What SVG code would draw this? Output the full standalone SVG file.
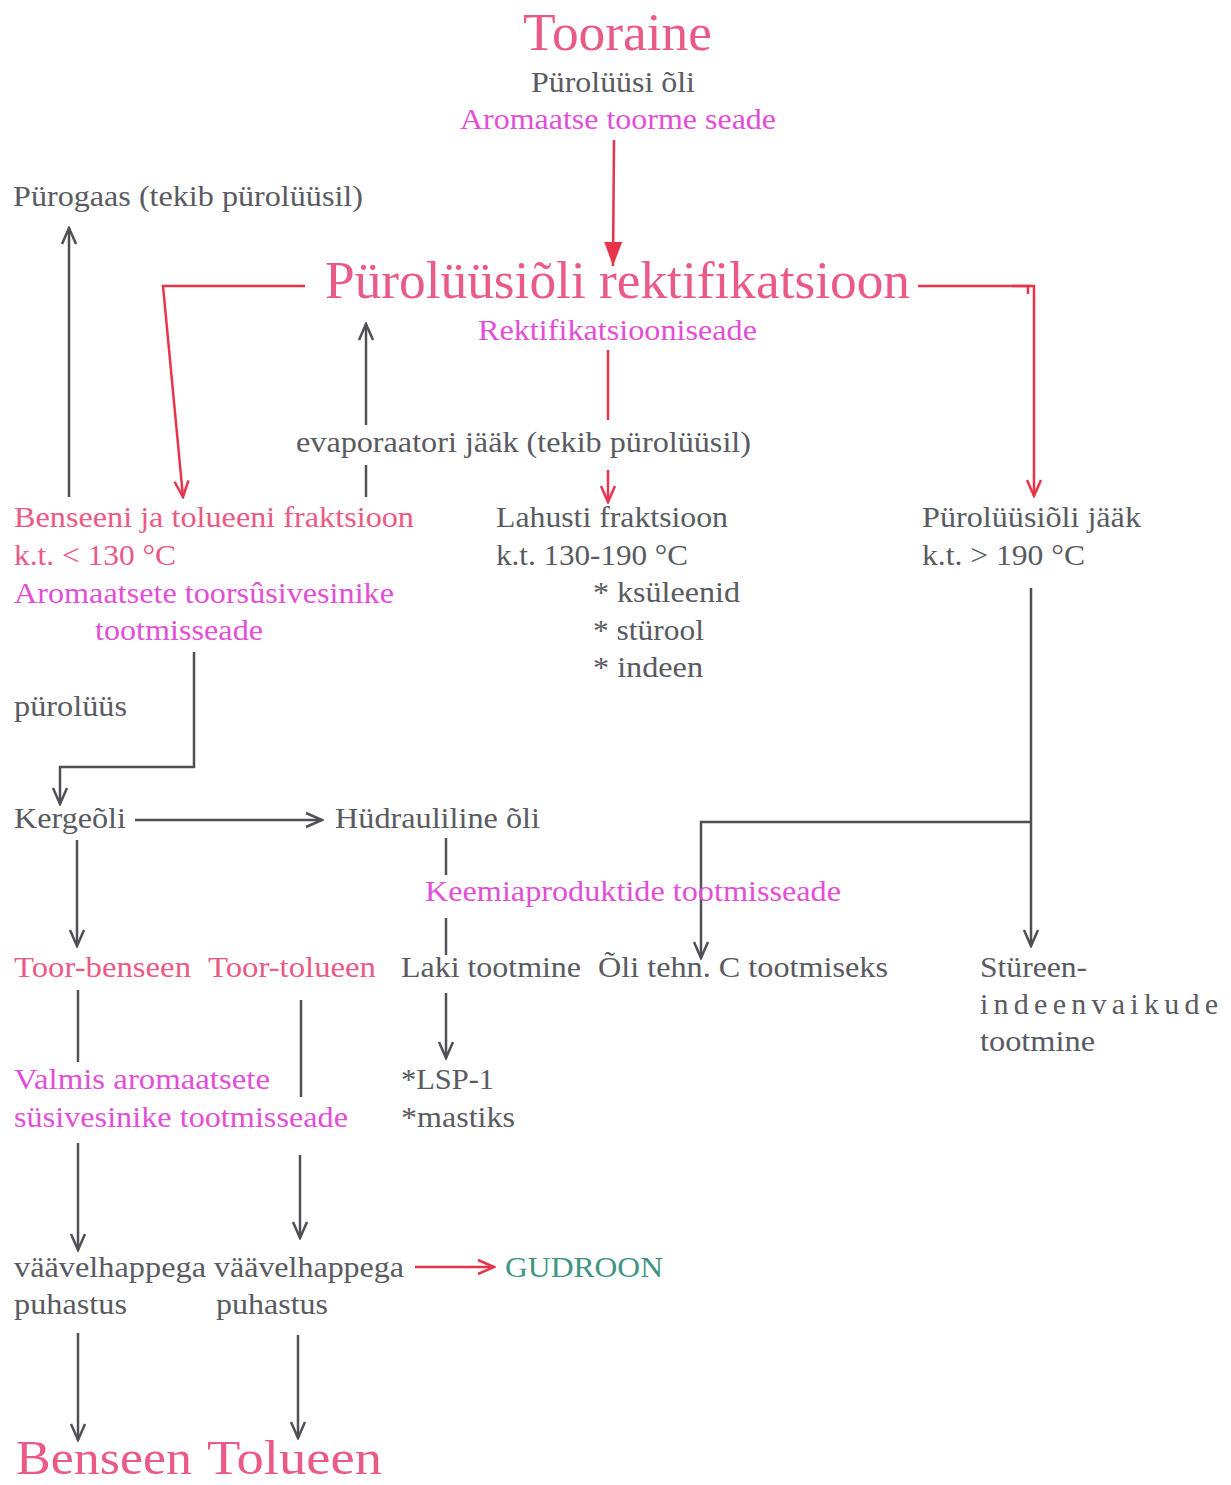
<svg xmlns="http://www.w3.org/2000/svg" width="1231" height="1485" viewBox="0 0 1231 1485">
<defs>
<style>
text{font-family:"Liberation Serif","Times New Roman",serif;font-size:30px}
.g{fill:#5a5a62}
.p{fill:#ea5a86}
.m{fill:#e24fd6}
.t{fill:#3f9485}
.big{font-size:52px}
.bot{font-size:48px}
.gl{stroke:#4f5056;stroke-width:2.5;fill:none}
.rl{stroke:#e8344a;stroke-width:2.5;fill:none}
</style>
<marker id="ag" viewBox="0 0 20 20" refX="18" refY="10" markerWidth="20" markerHeight="20" markerUnits="userSpaceOnUse" orient="auto"><path d="M2,3 L18,10 L2,17" fill="none" stroke="#4f5056" stroke-width="2.5"/></marker>
<marker id="ar" viewBox="0 0 20 20" refX="18" refY="10" markerWidth="20" markerHeight="20" markerUnits="userSpaceOnUse" orient="auto"><path d="M2,3 L18,10 L2,17" fill="none" stroke="#e8344a" stroke-width="2.5"/></marker>
<marker id="arf" viewBox="0 0 26 20" refX="24" refY="10" markerWidth="26" markerHeight="20" markerUnits="userSpaceOnUse" orient="auto"><path d="M0,1 L24,10 L0,19 Z" fill="#e8344a"/></marker>
</defs>
<rect width="1231" height="1485" fill="#ffffff"/>

<g id="connectors">
<path class="rl" d="M614,140 L613,266" marker-end="url(#arf)"/>
<path class="rl" d="M305,286 L163,286 L183,497" marker-end="url(#ar)"/>
<path class="rl" d="M918,286 L1034,286 L1034,496" marker-end="url(#ar)"/>
<path class="rl" d="M1012,286 L1028,286 L1028,294" stroke-width="3"/>
<path class="rl" d="M608,350 L608,420"/>
<path class="rl" d="M608,470 L608,502" marker-end="url(#ar)"/>
<path class="gl" d="M69,497 L69,228" marker-end="url(#ag)"/>
<path class="gl" d="M366,497 L366,465"/>
<path class="gl" d="M366,425 L366,324" marker-end="url(#ag)"/>
<path class="gl" d="M194,652 L194,767 L60,767 L60,804" marker-end="url(#ag)"/>
<path class="gl" d="M135,820 L322,820" marker-end="url(#ag)"/>
<path class="gl" d="M77,840 L77,946" marker-end="url(#ag)"/>
<path class="gl" d="M446,838 L446,875"/>
<path class="gl" d="M446,918 L446,955"/>
<path class="gl" d="M446,993 L446,1058" marker-end="url(#ag)"/>
<path class="gl" d="M1031,588 L1031,946" marker-end="url(#ag)"/>
<path class="gl" d="M1031,822 L701,822 L701,958" marker-end="url(#ag)"/>
<path class="gl" d="M78,990 L78,1062"/>
<path class="gl" d="M301,1000 L301,1097"/>
<path class="gl" d="M78,1143 L78,1250" marker-end="url(#ag)"/>
<path class="gl" d="M300,1155 L300,1238" marker-end="url(#ag)"/>
<path class="rl" d="M415,1267 L494,1267" marker-end="url(#ar)"/>
<path class="gl" d="M78,1333 L78,1440" marker-end="url(#ag)"/>
<path class="gl" d="M298,1335 L298,1438" marker-end="url(#ag)"/>
</g>

<g id="tooraine">
<text class="p big" x="523" y="50" textLength="189" lengthAdjust="spacingAndGlyphs">Tooraine</text>
<text class="g" x="531" y="92" textLength="164" lengthAdjust="spacingAndGlyphs">Pürolüüsi õli</text>
<text class="m" x="460" y="129" textLength="316" lengthAdjust="spacingAndGlyphs">Aromaatse toorme seade</text>
</g>
<g id="purogaas">
<text class="g" x="13" y="206" textLength="350" lengthAdjust="spacingAndGlyphs">Pürogaas (tekib pürolüüsil)</text>
</g>
<g id="rektifikatsioon">
<text class="p big" x="325" y="298" textLength="585" lengthAdjust="spacingAndGlyphs">Pürolüüsiõli rektifikatsioon</text>
<text class="m" x="478" y="340" textLength="279" lengthAdjust="spacingAndGlyphs">Rektifikatsiooniseade</text>
</g>
<g id="evaporaator">
<text class="g" x="296" y="452" textLength="455" lengthAdjust="spacingAndGlyphs">evaporaatori jääk (tekib pürolüüsil)</text>
</g>
<g id="benseeni-fraktsioon">
<text class="p" x="14" y="527" textLength="400" lengthAdjust="spacingAndGlyphs">Benseeni ja tolueeni fraktsioon</text>
<text class="p" x="14" y="565" textLength="162" lengthAdjust="spacingAndGlyphs">k.t. &lt; 130 °C</text>
<text class="m" x="14" y="603" textLength="380" lengthAdjust="spacingAndGlyphs">Aromaatsete toorsûsivesinike</text>
<text class="m" x="95" y="640" textLength="168" lengthAdjust="spacingAndGlyphs">tootmisseade</text>
</g>
<g id="lahusti-fraktsioon">
<text class="g" x="496" y="527" textLength="232" lengthAdjust="spacingAndGlyphs">Lahusti fraktsioon</text>
<text class="g" x="496" y="565" textLength="192" lengthAdjust="spacingAndGlyphs">k.t. 130-190 °C</text>
<text class="g" x="593" y="602" textLength="147" lengthAdjust="spacingAndGlyphs">* ksüleenid</text>
<text class="g" x="593" y="640" textLength="111" lengthAdjust="spacingAndGlyphs">* stürool</text>
<text class="g" x="593" y="677" textLength="110" lengthAdjust="spacingAndGlyphs">* indeen</text>
</g>
<g id="jaak">
<text class="g" x="922" y="527" textLength="219" lengthAdjust="spacingAndGlyphs">Pürolüüsiõli jääk</text>
<text class="g" x="922" y="565" textLength="163" lengthAdjust="spacingAndGlyphs">k.t. &gt; 190 °C</text>
</g>
<g id="puroluus">
<text class="g" x="14" y="716" textLength="113" lengthAdjust="spacingAndGlyphs">pürolüüs</text>
</g>
<g id="kergeoli">
<text class="g" x="14" y="828" textLength="112" lengthAdjust="spacingAndGlyphs">Kergeõli</text>
</g>
<g id="hudrauliline">
<text class="g" x="335" y="828" textLength="205" lengthAdjust="spacingAndGlyphs">Hüdrauliline õli</text>
</g>
<g id="keemiaproduktide">
<text class="m" x="425" y="901" textLength="416" lengthAdjust="spacingAndGlyphs">Keemiaproduktide tootmisseade</text>
</g>
<g id="toor-benseen">
<text class="p" x="14" y="977" textLength="177" lengthAdjust="spacingAndGlyphs">Toor-benseen</text>
</g>
<g id="toor-tolueen">
<text class="p" x="208" y="977" textLength="168" lengthAdjust="spacingAndGlyphs">Toor-tolueen</text>
</g>
<g id="laki">
<text class="g" x="401" y="977" textLength="180" lengthAdjust="spacingAndGlyphs">Laki tootmine</text>
</g>
<g id="oli-tehn">
<text class="g" x="598" y="977" textLength="290" lengthAdjust="spacingAndGlyphs">Õli tehn. C tootmiseks</text>
</g>
<g id="stureen">
<text class="g" x="980" y="977" textLength="107" lengthAdjust="spacingAndGlyphs">Stüreen-</text>
<text class="g" x="980" y="1014" textLength="238" lengthAdjust="spacing">indeenvaikude</text>
<text class="g" x="980" y="1051" textLength="115" lengthAdjust="spacingAndGlyphs">tootmine</text>
</g>
<g id="valmis">
<text class="m" x="14" y="1089" textLength="256" lengthAdjust="spacingAndGlyphs">Valmis aromaatsete</text>
<text class="m" x="14" y="1127" textLength="334" lengthAdjust="spacingAndGlyphs">süsivesinike tootmisseade</text>
</g>
<g id="lsp">
<text class="g" x="401" y="1089" textLength="93" lengthAdjust="spacingAndGlyphs">*LSP-1</text>
<text class="g" x="401" y="1127" textLength="114" lengthAdjust="spacingAndGlyphs">*mastiks</text>
</g>
<g id="puhastus-1">
<text class="g" x="14" y="1277" textLength="192" lengthAdjust="spacingAndGlyphs">väävelhappega</text>
<text class="g" x="14" y="1314" textLength="113" lengthAdjust="spacingAndGlyphs">puhastus</text>
</g>
<g id="puhastus-2">
<text class="g" x="214" y="1277" textLength="190" lengthAdjust="spacingAndGlyphs">väävelhappega</text>
<text class="g" x="216" y="1314" textLength="112" lengthAdjust="spacingAndGlyphs">puhastus</text>
</g>
<g id="gudroon">
<text class="t" x="505" y="1277" textLength="158" lengthAdjust="spacingAndGlyphs">GUDROON</text>
</g>
<g id="benseen">
<text class="p bot" x="16" y="1474" textLength="176" lengthAdjust="spacingAndGlyphs">Benseen</text>
</g>
<g id="tolueen">
<text class="p bot" x="207" y="1474" textLength="175" lengthAdjust="spacingAndGlyphs">Tolueen</text>
</g>
</svg>
